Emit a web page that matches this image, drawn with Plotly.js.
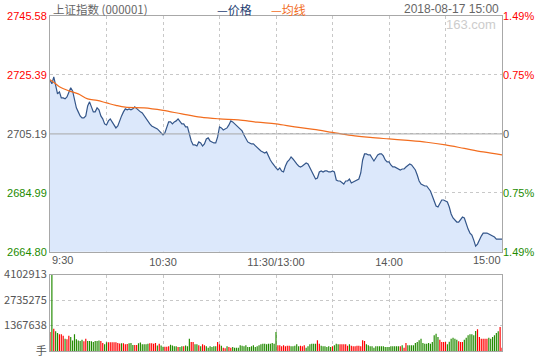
<!DOCTYPE html>
<html><head><meta charset="utf-8">
<script src="https://cdn.plot.ly/plotly-3.0.1.min.js"></script>
<style>html,body{margin:0;padding:0;background:#fff}#chart{width:540px;height:360px}</style>
</head><body><div id="chart"></div>
<script>
const chartTitle = "上证指数 (000001)";
const priceLegend = "—价格";
const avgLegend = "—均线";
const dateLabel = "2018-08-17 15:00";
const watermark = "163.com";
const prevClose = 2705.19;
const priceTicks = [2664.80, 2684.99, 2705.19, 2725.39, 2745.58];
const priceTickText = ["2664.80", "2684.99", "2705.19", "2725.39", "2745.58"];
const pctTickText = ["1.49%", "0.75%", "0", "0.75%", "1.49%"];
const tickSide = [-1, -1, 0, 1, 1];
const timeTickVals = [0, 30, 60, 90, 120, 150, 180, 210, 240];
const timeTickText = ["9:30", "", "10:30", "", "11:30/13:00", "", "14:00", "", "15:00"];
const volTicks = [0, 1367638, 2735275, 4102913];
const volTickText = ["手", "1367638", "2735275", "4102913"];

// one value per minute, 9:30 .. 11:30 / 13:00 .. 15:00 (241 minutes)
const price = [
2723.71,2722.34,2724.74,2721.65,2718.91,2719.60,2717.54,2717.54,2717.20,2717.88,
2719.60,2720.97,2719.94,2716.51,2714.11,2712.74,2711.36,2710.68,2710.68,2711.36,
2714.79,2716.17,2714.45,2712.74,2712.74,2714.11,2713.42,2711.36,2710.34,2708.62,
2708.28,2709.65,2710.34,2709.31,2708.28,2707.25,2707.93,2709.99,2711.36,2712.74,
2713.77,2713.42,2713.77,2713.42,2713.77,2714.45,2713.77,2713.08,2712.74,2712.39,
2711.36,2710.34,2709.31,2708.62,2707.93,2707.59,2707.25,2706.91,2706.22,2705.53,
2704.85,2705.53,2707.59,2709.31,2709.31,2708.62,2709.31,2709.65,2710.34,2709.65,
2708.62,2708.62,2707.59,2707.59,2704.85,2702.79,2701.42,2701.42,2701.07,2702.45,
2702.10,2701.07,2701.76,2703.47,2703.82,2702.79,2702.45,2702.10,2702.10,2704.16,
2707.59,2707.25,2706.56,2706.91,2707.25,2708.28,2709.65,2709.31,2708.62,2708.28,
2707.59,2706.91,2706.22,2704.85,2703.82,2702.45,2702.10,2701.76,2701.76,2701.07,
2700.73,2700.04,2699.36,2699.02,2698.67,2699.02,2697.30,2696.27,2695.24,2694.21,
2693.53,2692.84,2693.53,2692.50,2692.16,2694.21,2695.59,2696.27,2697.30,2696.61,
2695.59,2694.90,2694.21,2693.87,2694.21,2694.90,2695.24,2694.90,2693.53,2692.50,
2691.13,2689.75,2690.10,2692.16,2692.50,2692.16,2692.50,2692.50,2692.16,2692.16,
2692.50,2692.16,2689.41,2689.07,2689.07,2688.38,2688.04,2689.07,2689.07,2689.75,
2688.38,2688.73,2689.07,2689.41,2689.75,2691.81,2696.27,2698.33,2698.33,2697.99,
2697.99,2696.96,2695.93,2696.96,2697.99,2698.33,2698.33,2697.64,2696.27,2695.59,
2695.59,2694.56,2693.87,2693.87,2693.53,2693.18,2692.84,2693.18,2693.18,2693.87,
2694.56,2694.90,2694.56,2693.87,2692.84,2691.13,2689.07,2688.04,2687.70,2687.35,
2687.35,2686.67,2685.64,2683.92,2681.87,2680.49,2680.15,2681.18,2682.55,2682.55,
2682.21,2681.87,2680.15,2677.75,2676.38,2675.69,2675.01,2675.01,2676.03,2676.72,
2676.38,2674.32,2672.60,2671.23,2670.55,2668.83,2666.77,2667.46,2669.17,2670.20,
2671.23,2671.23,2671.23,2670.89,2670.55,2670.20,2669.86,2669.17,2669.17,2669.17,
2669.17
];

const avgMinutes = [0, 3, 5, 10, 15, 20, 25, 30, 35, 40, 50, 60, 70, 80, 90, 100, 110, 120, 130, 140, 150, 160, 170, 180, 190, 200, 210, 220, 230, 240];
const avgPrice = [2723.71, 2722.34, 2721.31, 2719.94, 2718.91, 2717.20, 2716.68, 2715.82, 2714.97, 2714.35, 2714.11, 2713.25, 2712.05, 2710.92, 2710.34, 2709.99, 2709.20, 2708.62, 2707.59, 2706.73, 2705.70, 2704.68, 2703.99, 2703.47, 2702.96, 2702.34, 2701.42, 2700.22, 2699.02, 2697.99];

const volume = [
1020000,4102913,1200000,1060000,970000,900000,900000,820000,660000,630000,
820000,750000,570000,900000,630000,570000,540000,610000,520000,660000,
540000,540000,520000,480000,540000,540000,570000,540000,430000,360000,
470000,470000,470000,470000,470000,470000,430000,400000,410000,410000,
360000,380000,410000,430000,320000,320000,320000,410000,450000,360000,
360000,360000,390000,410000,410000,390000,430000,300000,390000,290000,
230000,230000,230000,250000,340000,290000,250000,250000,210000,210000,
250000,250000,290000,250000,663000,484000,484000,358000,358000,305000,
251000,358000,305000,251000,179000,251000,215000,251000,251000,484000,
358000,287000,179000,143000,251000,215000,179000,215000,179000,179000,
179000,305000,287000,251000,305000,215000,215000,251000,305000,215000,
251000,305000,358000,394000,394000,358000,394000,394000,430000,394000,
1021000,305000,305000,251000,305000,251000,287000,287000,251000,251000,
287000,358000,251000,287000,251000,305000,179000,251000,358000,394000,
394000,394000,573000,394000,287000,251000,251000,215000,251000,215000,
251000,305000,394000,358000,358000,358000,358000,358000,287000,358000,
287000,251000,251000,287000,287000,251000,573000,538000,358000,305000,
251000,251000,179000,251000,251000,251000,251000,251000,215000,215000,
215000,251000,251000,251000,251000,251000,251000,305000,179000,430000,
305000,305000,305000,305000,430000,484000,573000,663000,430000,394000,
394000,430000,394000,484000,842000,932000,753000,609000,484000,484000,
484000,358000,502000,663000,717000,663000,609000,520000,484000,484000,
609000,717000,842000,896000,896000,842000,1075000,1165000,753000,663000,
663000,663000,663000,717000,663000,753000,842000,968000,1057000,1290000,
179000
];
// 1 = up minute (red), -1 = down minute (green)
const volumeDir = [
1,-1,1,-1,-1,1,1,1,-1,1,
1,-1,-1,-1,-1,-1,-1,-1,1,1,
-1,-1,-1,-1,-1,-1,-1,1,1,-1,
-1,1,1,1,1,1,1,1,-1,1,
1,1,-1,-1,-1,1,1,-1,-1,-1,
-1,-1,-1,1,1,1,1,-1,1,-1,
-1,1,1,1,-1,-1,-1,-1,1,-1,
-1,1,-1,-1,-1,1,1,-1,-1,1,
-1,1,1,-1,-1,-1,-1,-1,-1,1,
1,-1,1,1,-1,1,1,-1,-1,-1,
-1,-1,-1,-1,-1,-1,-1,-1,-1,-1,
-1,-1,-1,-1,-1,-1,-1,-1,-1,-1,
-1,1,1,1,1,1,1,1,-1,-1,
-1,-1,-1,1,1,1,-1,-1,-1,-1,
-1,-1,1,1,-1,-1,-1,-1,-1,-1,
1,-1,-1,-1,1,1,1,1,1,-1,
1,1,1,1,1,1,1,1,-1,-1,
-1,-1,-1,-1,-1,-1,-1,-1,-1,-1,
-1,-1,-1,-1,-1,-1,1,-1,1,1,
-1,-1,-1,-1,-1,-1,-1,-1,-1,-1,
-1,-1,-1,-1,-1,-1,-1,1,1,1,
1,-1,-1,-1,-1,-1,-1,1,1,1,
-1,-1,-1,-1,-1,-1,-1,1,1,1,
1,1,1,-1,-1,-1,-1,-1,-1,1,
1
];

const RED = "#ff0000", GREEN = "#228b00", GRAY = "#555555";
const minutes = price.map((_, i) => i);
const sideColor = s => s > 0 ? RED : (s < 0 ? GREEN : GRAY);
const colored = (t, s) => `<span style="color:${sideColor(s)}">${t}</span>`;

const traces = [
  {x: minutes, y: price, type: "scatter", mode: "lines", fill: "tozeroy",
   fillcolor: "#dce8fb", line: {color: "#34568a", width: 1.2}, hoverinfo: "skip", xaxis: "x", yaxis: "y"},
  {x: avgMinutes, y: avgPrice, type: "scatter", mode: "lines", line: {color: "#f26d1f", width: 1.2, shape: "spline"},
   hoverinfo: "skip", xaxis: "x", yaxis: "y"},
  {x: [minutes[0]], y: [prevClose], type: "scatter", mode: "markers", marker: {opacity: 0},
   hoverinfo: "skip", xaxis: "x", yaxis: "y2"},
  {x: minutes, y: volume, type: "bar", width: 0.62, marker: {color: volumeDir.map(sideColor), line: {width: 0}},
   hoverinfo: "skip", xaxis: "x2", yaxis: "y3"}
];

const gridStyle = {showgrid: true, gridcolor: "#c8c8c8", griddash: "dot", gridwidth: 1, zeroline: false,
  showline: true, linecolor: "#a8a8a8", linewidth: 1, mirror: true, ticks: ""};
const cjk = "Noto Sans CJK SC, Liberation Sans, sans-serif";
const latin = "Liberation Sans, Arial, sans-serif";
const lastTick = timeTickText.length - 1;
const headerY = 1 + 16 / 335;   // top edge of the figure, in paper units
const timeLabelY = (351 - 260) / 335;

const layout = {
  width: 540, height: 360,
  margin: {l: 50, r: 38, t: 16, b: 9},
  paper_bgcolor: "#ffffff", plot_bgcolor: "#ffffff",
  showlegend: false,
  font: {family: latin, size: 11, color: GRAY},
  xaxis: Object.assign({}, gridStyle, {anchor: "y", domain: [0, 1], range: [0, 240],
    tickmode: "array", tickvals: timeTickVals,
    ticktext: timeTickText.map((t, i) => (i === 0 || i === lastTick) ? "" : t),
    tickfont: {size: 11, color: GRAY}}),
  yaxis: Object.assign({}, gridStyle, {domain: [0.296, 1], range: [priceTicks[0], priceTicks[4]],
    tickmode: "array", tickvals: priceTicks, ticktext: priceTickText.map((t, i) => colored(t, tickSide[i])),
    tickfont: {size: 11}}),
  yaxis2: {overlaying: "y", side: "right", anchor: "x", range: [priceTicks[0], priceTicks[4]],
    tickmode: "array", tickvals: priceTicks, ticktext: pctTickText.map((t, i) => colored(t, tickSide[i])),
    showgrid: false, zeroline: false, showline: false, ticks: "", tickfont: {size: 11}},
  xaxis2: Object.assign({}, gridStyle, {anchor: "y3", domain: [0, 1], range: [0, 240],
    tickmode: "array", tickvals: timeTickVals, showticklabels: false}),
  yaxis3: Object.assign({}, gridStyle, {anchor: "x2", domain: [0, 0.228], range: [0, volTicks[3]],
    tickmode: "array", tickvals: volTicks, ticktext: volTickText, tickfont: {size: 11, color: GRAY, family: cjk}}),
  shapes: [
    {type: "line", xref: "paper", yref: "y", x0: 0, x1: 1, y0: prevClose, y1: prevClose,
     line: {color: "#a8a8a8", width: 1}}
  ],
  annotations: [
    {text: chartTitle, xref: "paper", yref: "paper", x: 0.004, y: headerY, xanchor: "left", yanchor: "top",
     borderpad: 0, showarrow: false, font: {family: cjk, size: 11.5, color: "#666666"}},
    {text: priceLegend, xref: "paper", yref: "paper", x: (216 - 50) / 452, y: headerY, xanchor: "left", yanchor: "top",
     borderpad: 0, showarrow: false, font: {family: cjk, size: 12, color: "#1f3f73"}},
    {text: avgLegend, xref: "paper", yref: "paper", x: (270 - 50) / 452, y: headerY, xanchor: "left", yanchor: "top",
     borderpad: 0, showarrow: false, font: {family: cjk, size: 12, color: "#f26d1f"}},
    {text: dateLabel, xref: "paper", yref: "paper", x: (500 - 50) / 452, y: headerY - 0.004, xanchor: "right", yanchor: "top",
     borderpad: 0, showarrow: false, font: {family: latin, size: 12, color: "#666666"}},
    {text: watermark, xref: "paper", yref: "paper", x: (498 - 50) / 452, y: 1 - (24 - 16) / 335, xanchor: "right", yanchor: "middle",
     showarrow: false, font: {family: latin, size: 13, color: "#cccccc"}},
    {text: timeTickText[0], xref: "paper", yref: "paper", x: 0.002, y: timeLabelY, xanchor: "left", yanchor: "middle",
     borderpad: 0, showarrow: false, font: {family: latin, size: 11, color: GRAY}},
    {text: timeTickText[lastTick], xref: "paper", yref: "paper", x: 1, y: timeLabelY, xanchor: "right", yanchor: "middle",
     borderpad: 0, showarrow: false, font: {family: latin, size: 11, color: GRAY}}
  ]
};

Plotly.newPlot("chart", traces, layout, {staticPlot: true, displayModeBar: false});
</script>
</body></html>
